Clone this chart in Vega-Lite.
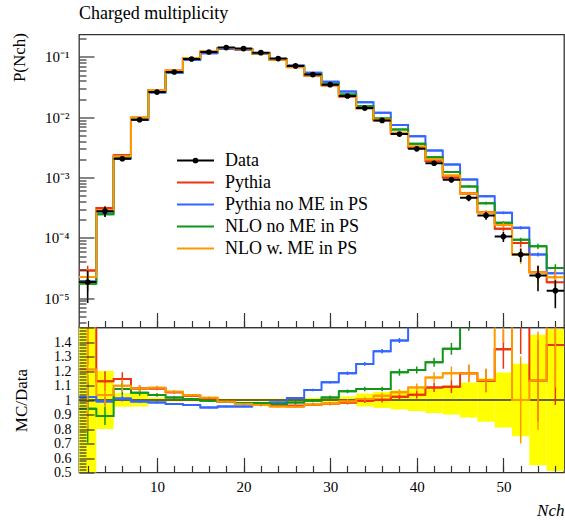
{
  "$schema": "https://vega.github.io/schema/vega-lite/v6.json",
  "padding": {"left": 9, "top": 3.5, "right": 0, "bottom": 0},
  "background": "white",
  "spacing": 0,
  "bounds": "flush",
  "config": {
    "font": "Liberation Serif",
    "view": {"stroke": "#333333", "strokeWidth": 1.3},
    "axis": {"grid": false, "domain": false, "labelFont": "Liberation Serif", "titleFont": "Liberation Serif", "labelColor": "#000000", "titleColor": "#000000", "titleFontWeight": "normal", "tickColor": "#333333", "tickWidth": 1.2},
    "legend": {"labelFont": "Liberation Serif"}
  },
  "datasets": {
    "dat": [
      {"x":2,"lo":1,"hi":3,"d":0.0000185,"de":0.55},
      {"x":4,"lo":3,"hi":5,"d":0.000277,"de":0.2},
      {"x":6,"lo":5,"hi":7,"d":0.00205,"de":0.046},
      {"x":8,"lo":7,"hi":9,"d":0.0091,"de":0.045},
      {"x":10,"lo":9,"hi":11,"d":0.0262,"de":0.018},
      {"x":12,"lo":11,"hi":13,"d":0.0564,"de":0.01},
      {"x":14,"lo":13,"hi":15,"d":0.0927,"de":0.008},
      {"x":16,"lo":15,"hi":17,"d":0.121,"de":0.008},
      {"x":18,"lo":17,"hi":19,"d":0.143,"de":0.008},
      {"x":20,"lo":19,"hi":21,"d":0.138,"de":0.008},
      {"x":22,"lo":21,"hi":23,"d":0.118,"de":0.008},
      {"x":24,"lo":23,"hi":25,"d":0.094,"de":0.008},
      {"x":26,"lo":25,"hi":27,"d":0.071,"de":0.01},
      {"x":28,"lo":27,"hi":29,"d":0.051,"de":0.015},
      {"x":30,"lo":29,"hi":31,"d":0.0347,"de":0.017},
      {"x":32,"lo":31,"hi":33,"d":0.0225,"de":0.025},
      {"x":34,"lo":33,"hi":35,"d":0.0142,"de":0.045},
      {"x":36,"lo":35,"hi":37,"d":0.00888,"de":0.055},
      {"x":38,"lo":37,"hi":39,"d":0.00526,"de":0.065},
      {"x":40,"lo":39,"hi":41,"d":0.0030,"de":0.075},
      {"x":42,"lo":41,"hi":43,"d":0.00173,"de":0.09},
      {"x":44,"lo":43,"hi":45,"d":0.000918,"de":0.1},
      {"x":46,"lo":45,"hi":47,"d":0.000461,"de":0.12},
      {"x":48,"lo":47,"hi":49,"d":0.000234,"de":0.15},
      {"x":50,"lo":49,"hi":51,"d":0.000105,"de":0.19},
      {"x":52,"lo":51,"hi":53,"d":0.0000528,"de":0.25},
      {"x":54,"lo":53,"hi":55,"d":0.0000237,"de":0.45},
      {"x":56,"lo":55,"hi":57,"d":0.0000133,"de":0.49}
    ],
    "mc": [
      {"x":2,"s":"Pythia","r":1.55,"e":0.2},{"x":4,"s":"Pythia","r":1.13,"e":0.06},{"x":6,"s":"Pythia","r":1.145,"e":0.04},{"x":8,"s":"Pythia","r":1.08,"e":0.02},{"x":10,"s":"Pythia","r":1.08,"e":0.012},{"x":12,"s":"Pythia","r":1.053,"e":0.01},{"x":14,"s":"Pythia","r":1.03,"e":0.008},{"x":16,"s":"Pythia","r":1.011,"e":0.008},{"x":18,"s":"Pythia","r":0.988,"e":0.008},{"x":20,"s":"Pythia","r":0.979,"e":0.008},{"x":22,"s":"Pythia","r":0.965,"e":0.008},{"x":24,"s":"Pythia","r":0.965,"e":0.008},{"x":26,"s":"Pythia","r":0.961,"e":0.01},{"x":28,"s":"Pythia","r":0.968,"e":0.01},{"x":30,"s":"Pythia","r":0.975,"e":0.012},{"x":32,"s":"Pythia","r":0.983,"e":0.015},{"x":34,"s":"Pythia","r":0.995,"e":0.015},{"x":36,"s":"Pythia","r":1.002,"e":0.02},{"x":38,"s":"Pythia","r":1.023,"e":0.02},{"x":40,"s":"Pythia","r":1.037,"e":0.025},{"x":42,"s":"Pythia","r":1.087,"e":0.03},{"x":44,"s":"Pythia","r":1.092,"e":0.04},{"x":46,"s":"Pythia","r":1.184,"e":0.05},{"x":48,"s":"Pythia","r":1.133,"e":0.07},{"x":50,"s":"Pythia","r":1.35,"e":0.1},{"x":52,"s":"Pythia","r":1.55,"e":0.15},{"x":54,"s":"Pythia","r":1.133,"e":0.25},{"x":56,"s":"Pythia","r":1.38,"e":0.3},
      {"x":2,"s":"Pythia no ME in PS","r":1.02,"e":0.1},{"x":4,"s":"Pythia no ME in PS","r":0.99,"e":0.03},{"x":6,"s":"Pythia no ME in PS","r":1.01,"e":0.02},{"x":8,"s":"Pythia no ME in PS","r":0.99,"e":0.01},{"x":10,"s":"Pythia no ME in PS","r":0.983,"e":0.008},{"x":12,"s":"Pythia no ME in PS","r":0.972,"e":0.006},{"x":14,"s":"Pythia no ME in PS","r":0.965,"e":0.006},{"x":16,"s":"Pythia no ME in PS","r":0.949,"e":0.006},{"x":18,"s":"Pythia no ME in PS","r":0.956,"e":0.006},{"x":20,"s":"Pythia no ME in PS","r":0.956,"e":0.006},{"x":22,"s":"Pythia no ME in PS","r":0.972,"e":0.006},{"x":24,"s":"Pythia no ME in PS","r":0.983,"e":0.006},{"x":26,"s":"Pythia no ME in PS","r":1.014,"e":0.006},{"x":28,"s":"Pythia no ME in PS","r":1.069,"e":0.008},{"x":30,"s":"Pythia no ME in PS","r":1.122,"e":0.008},{"x":32,"s":"Pythia no ME in PS","r":1.184,"e":0.01},{"x":34,"s":"Pythia no ME in PS","r":1.249,"e":0.01},{"x":36,"s":"Pythia no ME in PS","r":1.336,"e":0.012},{"x":38,"s":"Pythia no ME in PS","r":1.41,"e":0.012},{"x":40,"s":"Pythia no ME in PS","r":1.61,"e":0.015},{"x":42,"s":"Pythia no ME in PS","r":1.63,"e":0.02},{"x":44,"s":"Pythia no ME in PS","r":1.8,"e":0.025},{"x":46,"s":"Pythia no ME in PS","r":2.02,"e":0.03},{"x":48,"s":"Pythia no ME in PS","r":2.09,"e":0.04},{"x":50,"s":"Pythia no ME in PS","r":2.48,"e":0.05},{"x":52,"s":"Pythia no ME in PS","r":2.78,"e":0.06},{"x":54,"s":"Pythia no ME in PS","r":2.24,"e":0.08},{"x":56,"s":"Pythia no ME in PS","r":1.94,"e":0.1},
      {"x":2,"s":"NLO no ME in PS","r":0.94,"e":0.25},{"x":4,"s":"NLO no ME in PS","r":0.89,"e":0.07},{"x":6,"s":"NLO no ME in PS","r":1.076,"e":0.04},{"x":8,"s":"NLO no ME in PS","r":1.05,"e":0.02},{"x":10,"s":"NLO no ME in PS","r":1.035,"e":0.012},{"x":12,"s":"NLO no ME in PS","r":1.018,"e":0.01},{"x":14,"s":"NLO no ME in PS","r":1.007,"e":0.008},{"x":16,"s":"NLO no ME in PS","r":0.995,"e":0.008},{"x":18,"s":"NLO no ME in PS","r":0.988,"e":0.008},{"x":20,"s":"NLO no ME in PS","r":0.979,"e":0.008},{"x":22,"s":"NLO no ME in PS","r":0.979,"e":0.008},{"x":24,"s":"NLO no ME in PS","r":0.972,"e":0.008},{"x":26,"s":"NLO no ME in PS","r":0.983,"e":0.01},{"x":28,"s":"NLO no ME in PS","r":0.995,"e":0.01},{"x":30,"s":"NLO no ME in PS","r":1.018,"e":0.012},{"x":32,"s":"NLO no ME in PS","r":1.06,"e":0.012},{"x":34,"s":"NLO no ME in PS","r":1.076,"e":0.015},{"x":36,"s":"NLO no ME in PS","r":1.076,"e":0.015},{"x":38,"s":"NLO no ME in PS","r":1.191,"e":0.02},{"x":40,"s":"NLO no ME in PS","r":1.207,"e":0.02},{"x":42,"s":"NLO no ME in PS","r":1.26,"e":0.025},{"x":44,"s":"NLO no ME in PS","r":1.353,"e":0.03},{"x":46,"s":"NLO no ME in PS","r":1.54,"e":0.04},{"x":48,"s":"NLO no ME in PS","r":1.61,"e":0.05},{"x":50,"s":"NLO no ME in PS","r":1.69,"e":0.06},{"x":52,"s":"NLO no ME in PS","r":1.76,"e":0.08},{"x":54,"s":"NLO no ME in PS","r":3.06,"e":0.1},{"x":56,"s":"NLO no ME in PS","r":2.38,"e":0.15},
      {"x":2,"s":"NLO w. ME in PS","r":1.21,"e":0.35},{"x":4,"s":"NLO w. ME in PS","r":1.035,"e":0.08},{"x":6,"s":"NLO w. ME in PS","r":1.099,"e":0.04},{"x":8,"s":"NLO w. ME in PS","r":1.08,"e":0.02},{"x":10,"s":"NLO w. ME in PS","r":1.085,"e":0.012},{"x":12,"s":"NLO w. ME in PS","r":1.057,"e":0.01},{"x":14,"s":"NLO w. ME in PS","r":1.033,"e":0.008},{"x":16,"s":"NLO w. ME in PS","r":1.016,"e":0.008},{"x":18,"s":"NLO w. ME in PS","r":0.988,"e":0.008},{"x":20,"s":"NLO w. ME in PS","r":0.972,"e":0.008},{"x":22,"s":"NLO w. ME in PS","r":0.965,"e":0.008},{"x":24,"s":"NLO w. ME in PS","r":0.956,"e":0.008},{"x":26,"s":"NLO w. ME in PS","r":0.954,"e":0.01},{"x":28,"s":"NLO w. ME in PS","r":0.968,"e":0.01},{"x":30,"s":"NLO w. ME in PS","r":0.975,"e":0.012},{"x":32,"s":"NLO w. ME in PS","r":0.99,"e":0.015},{"x":34,"s":"NLO w. ME in PS","r":1.007,"e":0.015},{"x":36,"s":"NLO w. ME in PS","r":1.03,"e":0.02},{"x":38,"s":"NLO w. ME in PS","r":1.053,"e":0.02},{"x":40,"s":"NLO w. ME in PS","r":1.087,"e":0.025},{"x":42,"s":"NLO w. ME in PS","r":1.156,"e":0.03},{"x":44,"s":"NLO w. ME in PS","r":1.184,"e":0.04},{"x":46,"s":"NLO w. ME in PS","r":1.184,"e":0.05},{"x":48,"s":"NLO w. ME in PS","r":1.138,"e":0.07},{"x":50,"s":"NLO w. ME in PS","r":1.55,"e":0.1},{"x":52,"s":"NLO w. ME in PS","r":1.0,"e":0.3},{"x":54,"s":"NLO w. ME in PS","r":1.133,"e":0.3},{"x":56,"s":"NLO w. ME in PS","r":1.67,"e":0.35}
    ]
  },
  "vconcat": [
    {
      "width": 485,
      "height": 293,
      "title": {"text": "Charged multiplicity", "anchor": "start", "frame": "group", "fontSize": 18, "fontWeight": "normal", "font": "Liberation Serif", "color": "#000000", "offset": 10},
      "resolve": {"axis": {"x": "independent", "y": "independent"}},
      "layer": [
        {
          "data": {"name": "mc"},
          "transform": [
            {"lookup": "x", "from": {"data": {"name": "dat"}, "key": "x", "fields": ["d", "lo", "hi"]}},
            {"calculate": "datum.r*datum.d", "as": "v"}
          ],
          "mark": {"type": "rule", "strokeWidth": 2, "clip": true},
          "encoding": {
            "x": {"field": "lo", "type": "quantitative", "scale": {"domain": [1, 57], "nice": false, "zero": false},
                  "axis": {"orient": "bottom", "values": [10, 20, 30, 40, 50], "labels": false, "tickSize": -15, "title": null, "zindex": 1}},
            "x2": {"field": "hi"},
            "y": {"field": "v", "type": "quantitative", "scale": {"type": "log", "domain": [0.00000326, 0.236], "nice": false},
                  "axis": {"orient": "left", "values": [0.00001, 0.0001, 0.001, 0.01, 0.1], "ticks": false,
                           "labelExpr": "datum.value > 0.05 ? '10⁻¹' : datum.value > 0.005 ? '10⁻²' : datum.value > 0.0005 ? '10⁻³' : datum.value > 0.00005 ? '10⁻⁴' : '10⁻⁵'",
                           "labelFontSize": 15, "labelPadding": 10,
                           "title": "P(Nch)", "titleFontSize": 17, "titleAnchor": "end", "titleAlign": "right", "titleX": -51, "titleY": -2}},
            "color": {"field": "s", "type": "nominal",
                      "scale": {"domain": ["Data", "Pythia", "Pythia no ME in PS", "NLO no ME in PS", "NLO w. ME in PS"], "range": ["#000000", "#EE3311", "#3366FF", "#109618", "#FF9900"]}}
          }
        },
        {
          "data": {"name": "mc"},
          "transform": [
            {"lookup": "x", "from": {"data": {"name": "dat"}, "key": "x", "fields": ["d", "lo", "hi"]}},
            {"calculate": "datum.r*datum.d", "as": "v"}
          ],
          "mark": {"type": "line", "interpolate": "step", "strokeWidth": 2, "clip": true},
          "encoding": {
            "x": {"field": "x", "type": "quantitative", "scale": {"domain": [1, 57], "nice": false, "zero": false},
                  "axis": {"orient": "bottom", "values": [2,4,6,8,10,12,14,16,18,20,22,24,26,28,30,32,34,36,38,40,42,44,46,48,50,52,54,56], "labels": false, "tickSize": -7, "title": null, "zindex": 1}},
            "y": {"field": "v", "type": "quantitative", "scale": {"type": "log", "domain": [0.00000326, 0.236], "nice": false},
                  "axis": {"orient": "left", "values": [0.00001, 0.0001, 0.001, 0.01, 0.1], "labels": false, "tickSize": -15, "title": null, "zindex": 1}},
            "color": {"field": "s", "type": "nominal",
                      "scale": {"domain": ["Data", "Pythia", "Pythia no ME in PS", "NLO no ME in PS", "NLO w. ME in PS"], "range": ["#000000", "#EE3311", "#3366FF", "#109618", "#FF9900"]}}
          }
        },
        {
          "data": {"name": "mc"},
          "transform": [
            {"lookup": "x", "from": {"data": {"name": "dat"}, "key": "x", "fields": ["d", "lo", "hi"]}},
            {"calculate": "datum.r*datum.d*(1-datum.e)", "as": "vl"},
            {"calculate": "datum.r*datum.d*(1+datum.e)", "as": "vh"}
          ],
          "mark": {"type": "rule", "strokeWidth": 1.5, "clip": true},
          "encoding": {
            "x": {"field": "x", "type": "quantitative", "scale": {"domain": [1, 57], "nice": false, "zero": false}, "axis": null},
            "y": {"field": "vl", "type": "quantitative", "scale": {"type": "log", "domain": [0.00000326, 0.236], "nice": false},
                  "axis": {"orient": "left", "values": [0.000004,0.000005,0.000006,0.000007,0.000008,0.000009,0.00002,0.00003,0.00004,0.00005,0.00006,0.00007,0.00008,0.00009,0.0002,0.0003,0.0004,0.0005,0.0006,0.0007,0.0008,0.0009,0.002,0.003,0.004,0.005,0.006,0.007,0.008,0.009,0.02,0.03,0.04,0.05,0.06,0.07,0.08,0.09,0.2], "labels": false, "tickSize": -7, "title": null, "zindex": 1}},
            "y2": {"field": "vh"},
            "color": {"field": "s", "type": "nominal",
                      "scale": {"domain": ["Data", "Pythia", "Pythia no ME in PS", "NLO no ME in PS", "NLO w. ME in PS"], "range": ["#000000", "#EE3311", "#3366FF", "#109618", "#FF9900"]}}
          }
        },
        {
          "data": {"name": "dat"},
          "transform": [
            {"calculate": "datum.d*(1-datum.de)", "as": "dl"},
            {"calculate": "datum.d*(1+datum.de)", "as": "dh"}
          ],
          "mark": {"type": "rule", "strokeWidth": 1.6, "color": "#000000", "clip": true},
          "encoding": {
            "x": {"field": "x", "type": "quantitative", "axis": null},
            "y": {"field": "dl", "type": "quantitative", "axis": null},
            "y2": {"field": "dh"}
          }
        },
        {
          "data": {"name": "dat"},
          "transform": [{"calculate": "'Data'", "as": "s"}],
          "mark": {"type": "point", "filled": false, "strokeWidth": 2, "size": 300, "opacity": 1, "clip": true},
          "encoding": {
            "x": {"field": "x", "type": "quantitative", "axis": null},
            "y": {"field": "d", "type": "quantitative", "axis": null},
            "color": {"field": "s", "type": "nominal",
                      "scale": {"domain": ["Data", "Pythia", "Pythia no ME in PS", "NLO no ME in PS", "NLO w. ME in PS"], "range": ["#000000", "#EE3311", "#3366FF", "#109618", "#FF9900"]},
                      "legend": {"title": null, "orient": "none", "legendX": 97, "legendY": 117, "symbolSize": 1369, "symbolStrokeWidth": 2, "labelFont": "Liberation Serif", "labelFontSize": 18, "labelColor": "#000000", "labelOffset": 10, "rowPadding": 4, "clipHeight": 18, "padding": 0}},
            "shape": {"field": "s", "type": "nominal",
                      "scale": {"domain": ["Data", "Pythia", "Pythia no ME in PS", "NLO no ME in PS", "NLO w. ME in PS"], "range": ["M-1,0H1M-0.1,0A0.1,0.1,0,1,1,0.1,0A0.1,0.1,0,1,1,-0.1,0", "M-1,0H1", "M-1,0H1", "M-1,0H1", "M-1,0H1"]},
                      "legend": {"title": null, "orient": "none", "legendX": 97, "legendY": 117, "symbolSize": 1369, "symbolStrokeWidth": 2, "labelFont": "Liberation Serif", "labelFontSize": 18, "labelColor": "#000000", "labelOffset": 10, "rowPadding": 4, "clipHeight": 18, "padding": 0}}
          }
        },
        {
          "data": {"name": "dat"},
          "mark": {"type": "point", "filled": true, "size": 32, "opacity": 1, "color": "#000000", "clip": true},
          "encoding": {
            "x": {"field": "x", "type": "quantitative", "axis": null},
            "y": {"field": "d", "type": "quantitative", "axis": null}
          }
        }
      ]
    },
    {
      "width": 485,
      "height": 145,
      "resolve": {"axis": {"x": "independent", "y": "independent"}},
      "layer": [
        {
          "data": {"name": "dat"},
          "transform": [
            {"calculate": "1-datum.de", "as": "bl"},
            {"calculate": "1+datum.de", "as": "bh"}
          ],
          "mark": {"type": "rect", "color": "#FFFF00", "clip": true},
          "encoding": {
            "x": {"field": "lo", "type": "quantitative", "scale": {"domain": [1, 57], "nice": false, "zero": false},
                  "axis": {"orient": "bottom", "values": [10, 20, 30, 40, 50], "ticks": false, "labelFontSize": 15, "labelPadding": 7,
                           "title": "Nch", "titleFontSize": 17, "titleFontStyle": "italic", "titleAnchor": "end", "titleAlign": "right", "titlePadding": 8}},
            "x2": {"field": "hi"},
            "y": {"field": "bl", "type": "quantitative", "scale": {"domain": [0.5, 1.5], "nice": false, "zero": false},
                  "axis": {"orient": "left", "values": [0.5,0.6,0.7,0.8,0.9,1,1.1,1.2,1.3,1.4], "format": "~g", "ticks": false, "labelFontSize": 14, "labelPadding": 8,
                           "title": "MC/Data", "titleFontSize": 17, "titleX": -49}},
            "y2": {"field": "bh"}
          }
        },
        {
          "data": {"values": [{"one": 1}]},
          "mark": {"type": "rule", "color": "#333333", "strokeWidth": 1.3},
          "encoding": {
            "y": {"field": "one", "type": "quantitative", "axis": null}
          }
        },
        {
          "data": {"name": "mc"},
          "transform": [
            {"lookup": "x", "from": {"data": {"name": "dat"}, "key": "x", "fields": ["lo", "hi"]}}
          ],
          "mark": {"type": "rule", "strokeWidth": 2, "clip": true},
          "encoding": {
            "x": {"field": "lo", "type": "quantitative",
                  "axis": {"orient": "bottom", "values": [10, 20, 30, 40, 50], "labels": false, "tickSize": -15, "title": null, "zindex": 1}},
            "x2": {"field": "hi"},
            "y": {"field": "r", "type": "quantitative",
                  "axis": {"orient": "left", "values": [0.5,0.6,0.7,0.8,0.9,1,1.1,1.2,1.3,1.4,1.5], "labels": false, "tickSize": -15, "title": null, "zindex": 1}},
            "color": {"field": "s", "type": "nominal", "legend": null,
                      "scale": {"domain": ["Data", "Pythia", "Pythia no ME in PS", "NLO no ME in PS", "NLO w. ME in PS"], "range": ["#000000", "#EE3311", "#3366FF", "#109618", "#FF9900"]}}
          }
        },
        {
          "data": {"name": "mc"},
          "mark": {"type": "line", "interpolate": "step", "strokeWidth": 2, "clip": true},
          "encoding": {
            "x": {"field": "x", "type": "quantitative",
                  "axis": {"orient": "bottom", "values": [2,4,6,8,10,12,14,16,18,20,22,24,26,28,30,32,34,36,38,40,42,44,46,48,50,52,54,56], "labels": false, "tickSize": -7, "title": null, "zindex": 1}},
            "y": {"field": "r", "type": "quantitative",
                  "axis": {"orient": "left", "values": [0.52,0.54,0.56,0.58,0.62,0.64,0.66,0.68,0.72,0.74,0.76,0.78,0.82,0.84,0.86,0.88,0.92,0.94,0.96,0.98,1.02,1.04,1.06,1.08,1.12,1.14,1.16,1.18,1.22,1.24,1.26,1.28,1.32,1.34,1.36,1.38,1.42,1.44,1.46,1.48], "labels": false, "tickSize": -7, "title": null, "zindex": 1}},
            "color": {"field": "s", "type": "nominal", "legend": null,
                      "scale": {"domain": ["Data", "Pythia", "Pythia no ME in PS", "NLO no ME in PS", "NLO w. ME in PS"], "range": ["#000000", "#EE3311", "#3366FF", "#109618", "#FF9900"]}}
          }
        },
        {
          "data": {"name": "mc"},
          "transform": [
            {"calculate": "datum.r*(1-datum.e)", "as": "rl"},
            {"calculate": "datum.r*(1+datum.e)", "as": "rh"}
          ],
          "mark": {"type": "rule", "strokeWidth": 1.5, "clip": true},
          "encoding": {
            "x": {"field": "x", "type": "quantitative", "axis": null},
            "y": {"field": "rl", "type": "quantitative", "axis": null},
            "y2": {"field": "rh"},
            "color": {"field": "s", "type": "nominal", "legend": null,
                      "scale": {"domain": ["Data", "Pythia", "Pythia no ME in PS", "NLO no ME in PS", "NLO w. ME in PS"], "range": ["#000000", "#EE3311", "#3366FF", "#109618", "#FF9900"]}}
          }
        }
      ]
    }
  ]
}
